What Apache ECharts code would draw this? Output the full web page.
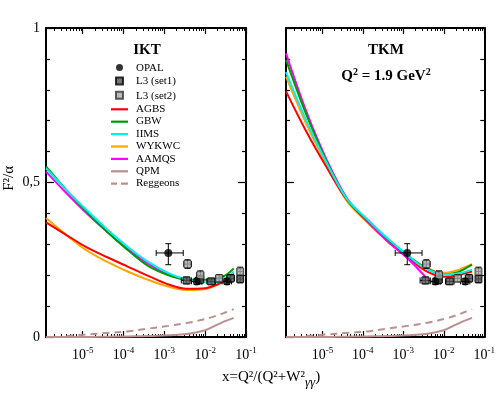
<!DOCTYPE html>
<html>
<head>
<meta charset="utf-8">
<script src="https://cdn.jsdelivr.net/npm/echarts@6/dist/echarts.min.js"></script>
<style>
html,body{margin:0;padding:0;background:#fff;}
#main{width:498px;height:393px;}
</style>
</head>
<body>
<div id="main"></div>
<script>
// x = Q^2/(Q^2+W^2), shared grid of the model curves
const xs=[1.26e-6,4e-6,1.26e-5,4e-5,1.26e-4,4e-4,1.26e-3,3.5e-3,1e-2,2e-2,3.2e-2,5e-2];

// IKT panel (left)
const iktAGBS =[0.371,0.330,0.290,0.258,0.228,0.198,0.170,0.156,0.158,0.170,0.185,0.205];
const iktGBW  =[0.552,0.475,0.405,0.340,0.282,0.230,0.200,0.186,0.185,0.190,0.200,0.222];
const iktIIMS =[0.546,0.475,0.410,0.348,0.292,0.243,0.207,0.186,0.177,0.178,0.188,0.212];
const iktWYKWC=[0.385,0.330,0.280,0.243,0.212,0.185,0.163,0.152,0.155,0.170,0.186,0.207];
const iktAAMQS=[0.535,0.465,0.400,0.340,0.285,0.237,0.202,0.183];

// TKM panel (right)
const tkmAGBS =[0.795,0.665,0.550,0.445,0.375,0.315,0.260,0.215,0.195,0.198,0.205,0.212];
const tkmGBW  =[0.897,0.720,0.570,0.447,0.380,0.318,0.265,0.225,0.203,0.208,0.220,0.234];
const tkmIIMS =[0.857,0.700,0.565,0.448,0.382,0.320,0.265,0.222,0.203,0.205,0.210,0.218];
const tkmWYKWC=[0.843,0.690,0.560,0.440,0.372,0.312,0.260,0.225,0.208,0.215,0.225,0.236];
const tkmAAMQS=[0.918,0.730,0.575,0.450,0.375,0.310,0.255,0.195];

// same in both panels
const qpm     =[0.000,0.000,0.000,0.001,0.002,0.003,0.006,0.010,0.022,0.040,0.052,0.062];
const reggeon =[null,0.003,0.008,0.013,0.018,0.027,0.036,0.045,0.058,0.070,0.080,0.090];

// data: [x, F2/alpha, xlo, xhi, ylo, yhi]
const opal=[
  [1.25e-3,0.272,6.3e-4,2.9e-3,0.234,0.302],
  [6.2e-3,0.180,4.6e-3,8.2e-3,0.170,0.190],
  [3.4e-2,0.180,2.6e-2,4.4e-2,0.170,0.190]
];
const l3set1=[
  [3.5e-3,0.183,2.6e-3,4.6e-3,0.172,0.194],
  [7.4e-3,0.185,5.8e-3,9.2e-3,0.172,0.198],
  [1.4e-2,0.180,1.1e-2,1.8e-2,0.170,0.190],
  [4.2e-2,0.190,3.4e-2,5.2e-2,0.178,0.202],
  [7.2e-2,0.188,6.2e-2,8.4e-2,0.175,0.201]
];
const l3set2=[
  [3.7e-3,0.236,3.0e-3,4.6e-3,0.222,0.250],
  [7.6e-3,0.200,6.2e-3,9.2e-3,0.186,0.214],
  [2.2e-2,0.190,1.8e-2,2.7e-2,0.178,0.202],
  [7.2e-2,0.212,6.2e-2,8.4e-2,0.198,0.226]
];

const xMajor=[-5,-4,-3,-2,-1];
const yLabels={0:'0',0.5:'0,5',1:'1'};

const XMIN=-5.9, XMAX=-1;
const font='"Liberation Serif","DejaVu Serif",serif';
const colors={AGBS:'#ff0000',GBW:'#009a00',IIMS:'#00f0f0',WYKWC:'#ffa500',AAMQS:'#ff00ff',QPM:'#bc8f8f',Reggeons:'#bc8f8f'};

// legend icons (the first M points only pad the box to 17x16)
const iconLine='path://M0,0M17,16M0,7h17v2.2h-17z';
const iconDash='path://M0,0M17,16M0,7h6v2.2h-6zM10,7h7v2.2h-7z';
const iconSquare='path://M0,0M17,16M5,4h7v7h-7z';
const iconDot='path://M0,0M17,16M5,7.5a3.5,3.5 0 1,0 7,0a3.5,3.5 0 1,0 -7,0z';

let xMinor=[];
for(let d=-6;d<=-2;d++){
  for(let k=2;k<=9;k++){
    const v=d+Math.log10(k);
    if(v>XMIN && v<XMAX) xMinor.push(v);
  }
}

function toLog(arr){
  let out=[];
  for(let i=0;i<arr.length;i++){
    if(arr[i]==null) continue;
    out.push([Math.log10(xs[i]),arr[i]]);
  }
  return out;
}
function pts(arr){
  return arr.map(function(p){return [Math.log10(p[0]),p[1],Math.log10(p[2]),Math.log10(p[3]),p[4],p[5]];});
}

let grids=[
  {left:46,top:28,width:200,height:309},
  {left:286,top:28,width:200,height:309}
];
let xAxes=[], yAxes=[], series=[];

for(let g=0;g<2;g++){
  ['bottom','top'].forEach(function(pos){
    xAxes.push({
      gridIndex:g,type:'value',min:XMIN,max:XMAX,position:pos,
      axisLine:{show:true,lineStyle:{color:'#000',width:2}},
      axisTick:{show:true,inside:true,length:6,customValues:xMajor,lineStyle:{color:'#000',width:1.2}},
      axisLabel:{show:pos==='bottom',customValues:xMajor,margin:9,
        formatter:function(v){return '10{s|'+v+'}';},
        color:'#000',fontFamily:font,fontSize:14,
        rich:{s:{fontSize:9,fontFamily:font,color:'#000',padding:[0,0,9,0]}}},
      splitLine:{show:false}
    });
    xAxes.push({
      gridIndex:g,type:'value',min:XMIN,max:XMAX,position:pos,
      axisLine:{show:false},
      axisTick:{show:true,inside:true,length:3,customValues:xMinor,lineStyle:{color:'#000',width:1}},
      axisLabel:{show:false},
      splitLine:{show:false}
    });
  });
  ['left','right'].forEach(function(pos){
    yAxes.push({
      gridIndex:g,type:'value',min:0,max:1,interval:0.5,position:pos,
      axisLine:{show:true,lineStyle:{color:'#000',width:2}},
      axisTick:{show:true,inside:true,length:8,lineStyle:{color:'#000',width:1.2}},
      minorTick:{show:true,splitNumber:5,length:4,lineStyle:{color:'#000',width:1.2}},
      axisLabel:{show:g===0&&pos==='left',margin:6,color:'#000',fontFamily:font,fontSize:14,
        formatter:function(v){return yLabels[v]!==undefined?yLabels[v]:'';}},
      splitLine:{show:false}
    });
  });
}

function errorBars(g,arr){
  return {
    type:'custom',xAxisIndex:g*4,yAxisIndex:g*2,silent:true,z:3,
    data:pts(arr),
    encode:{x:0,y:1},
    renderItem:function(params,api){
      const c=api.coord([api.value(0),api.value(1)]);
      const l=api.coord([api.value(2),api.value(1)]);
      const r=api.coord([api.value(3),api.value(1)]);
      const b=api.coord([api.value(0),api.value(4)]);
      const t=api.coord([api.value(0),api.value(5)]);
      const cap=3;
      const st={stroke:'#000',lineWidth:1};
      return {type:'group',children:[
        {type:'line',shape:{x1:l[0],y1:c[1],x2:r[0],y2:c[1]},style:st},
        {type:'line',shape:{x1:c[0],y1:b[1],x2:c[0],y2:t[1]},style:st},
        {type:'line',shape:{x1:l[0],y1:c[1]-cap,x2:l[0],y2:c[1]+cap},style:st},
        {type:'line',shape:{x1:r[0],y1:c[1]-cap,x2:r[0],y2:c[1]+cap},style:st},
        {type:'line',shape:{x1:c[0]-cap,y1:b[1],x2:c[0]+cap,y2:b[1]},style:st},
        {type:'line',shape:{x1:c[0]-cap,y1:t[1],x2:c[0]+cap,y2:t[1]},style:st}
      ]};
    }
  };
}

const panels=[
  {AGBS:iktAGBS,GBW:iktGBW,IIMS:iktIIMS,WYKWC:iktWYKWC,AAMQS:iktAAMQS},
  {AGBS:tkmAGBS,GBW:tkmGBW,IIMS:tkmIIMS,WYKWC:tkmWYKWC,AAMQS:tkmAAMQS}
];

for(let g=0;g<2;g++){
  const xi=g*4, yi=g*2;
  // drawing order so green/cyan/magenta overlap as in the plot
  ['QPM','Reggeons','WYKWC','AGBS','AAMQS','GBW','IIMS'].forEach(function(name){
    let arr;
    if(name==='QPM') arr=qpm;
    else if(name==='Reggeons') arr=reggeon;
    else arr=panels[g][name];
    series.push({
      name:name,type:'line',xAxisIndex:xi,yAxisIndex:yi,
      data:toLog(arr),smooth:0.35,showSymbol:false,symbol:'none',
      lineStyle:{color:colors[name],width:2,type:name==='Reggeons'?[7,5]:'solid'},
      itemStyle:{color:colors[name]},
      z:2,silent:true
    });
  });
  series.push(errorBars(g,opal));
  series.push(errorBars(g,l3set1));
  series.push(errorBars(g,l3set2));
  series.push({
    name:'L3 (set1)',type:'scatter',xAxisIndex:xi,yAxisIndex:yi,
    data:pts(l3set1),symbol:'rect',symbolSize:7,z:4,
    itemStyle:{color:'#555',borderColor:'#000',borderWidth:1}
  });
  series.push({
    name:'L3 (set2)',type:'scatter',xAxisIndex:xi,yAxisIndex:yi,
    data:pts(l3set2),symbol:'rect',symbolSize:7,z:4,
    itemStyle:{color:'#aaa',borderColor:'#333',borderWidth:1}
  });
  series.push({
    name:'OPAL',type:'scatter',xAxisIndex:xi,yAxisIndex:yi,
    data:pts(opal),symbol:'circle',symbolSize:8,z:5,
    itemStyle:{color:'#000'}
  });
}

let chart=echarts.init(document.getElementById('main'),null,{renderer:'canvas'});
chart.setOption({
  animation:false,
  backgroundColor:'#fff',
  grid:grids,
  xAxis:xAxes,
  yAxis:yAxes,
  legend:{
    orient:'vertical',left:110,top:60,padding:0,itemWidth:17,itemHeight:16,itemGap:-3.6,
    selectedMode:false,
    textStyle:{fontFamily:font,fontSize:11,color:'#000',lineHeight:11,padding:[0,0,0,3]},
    data:[
      {name:'OPAL',icon:iconDot},
      {name:'L3 (set1)',icon:iconSquare},
      {name:'L3 (set2)',icon:iconSquare},
      {name:'AGBS',icon:iconLine},
      {name:'GBW',icon:iconLine},
      {name:'IIMS',icon:iconLine},
      {name:'WYKWC',icon:iconLine},
      {name:'AAMQS',icon:iconLine},
      {name:'QPM',icon:iconLine},
      {name:'Reggeons',icon:iconDash}
    ]
  },
  title:[
    {text:'IKT',left:142,top:38,textAlign:'center',textStyle:{fontFamily:font,fontSize:15,fontWeight:'bold',color:'#000'}},
    {text:'TKM',left:381,top:38,textAlign:'center',textStyle:{fontFamily:font,fontSize:15,fontWeight:'bold',color:'#000'}},
    {text:'Q{s|2} = 1.9 GeV{s|2}',left:381,top:62,textAlign:'center',
      textStyle:{fontFamily:font,fontSize:15,fontWeight:'bold',color:'#000',
        rich:{s:{fontFamily:font,fontSize:10,fontWeight:'bold',color:'#000',padding:[0,0,9,0]}}}}
  ],
  graphic:[
    {type:'text',left:2,top:166,rotation:Math.PI/2,
      style:{text:'F²/α',font:'15px "Liberation Serif", serif',fill:'#000'}},
    {type:'text',left:222,top:370,
      style:{text:'x=Q²/(Q²+W²{s|γγ})',font:'15px "Liberation Serif", serif',fill:'#000',
        rich:{s:{font:'italic 13px "Liberation Serif", serif',fill:'#000',padding:[10,0,0,0]}}}}
  ],
  series:series
});
</script>
</body>
</html>
